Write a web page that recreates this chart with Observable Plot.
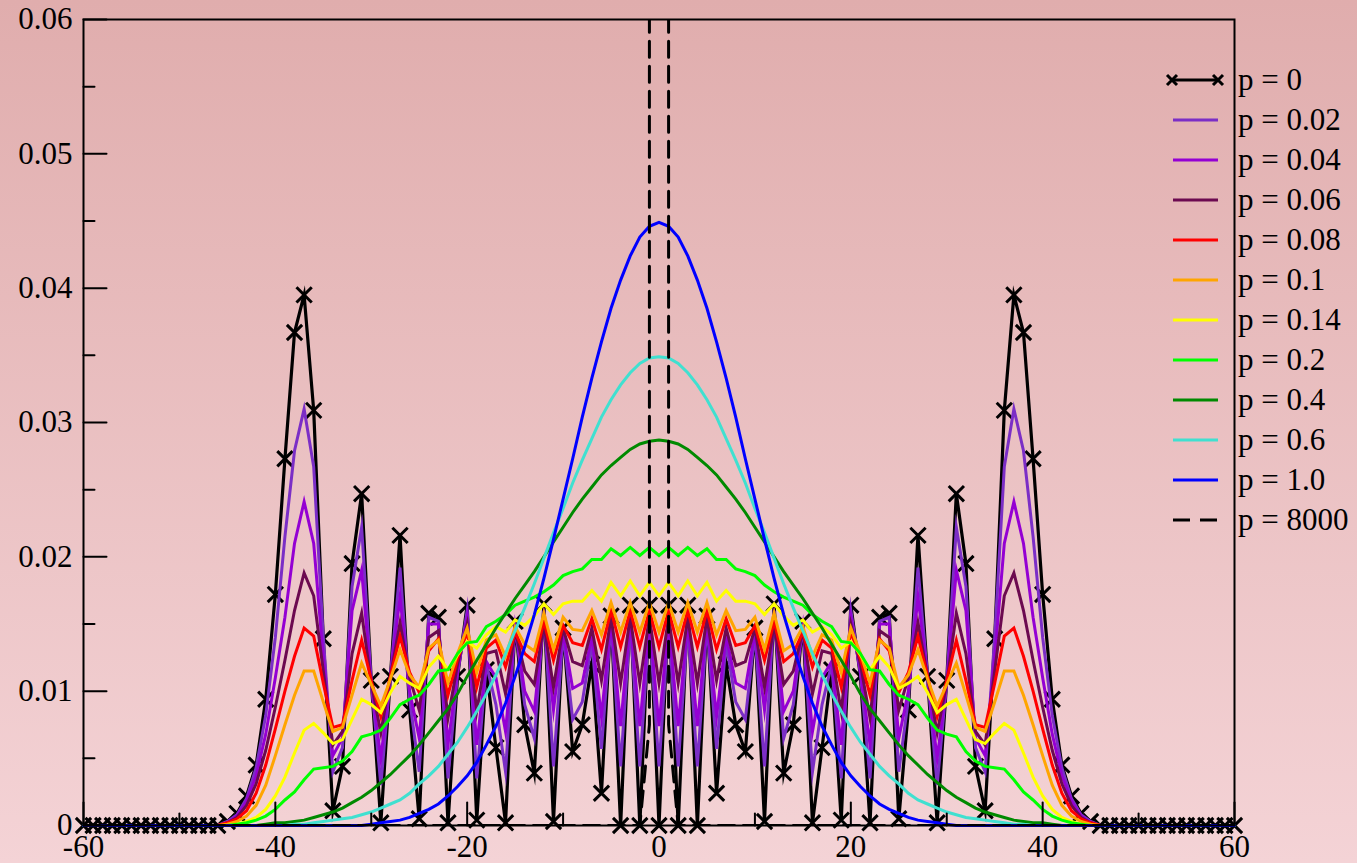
<!DOCTYPE html>
<html><head><meta charset="utf-8">
<script src="https://cdn.jsdelivr.net/npm/d3@7"></script>
<script src="https://cdn.jsdelivr.net/npm/@observablehq/plot@0.6"></script>
<style>
html,body{margin:0;padding:0;}
body{width:1357px;height:863px;background:linear-gradient(to bottom,#e0adad,#f4d3d6);overflow:hidden;position:relative;font-family:"Liberation Serif",serif;}
#chart{position:absolute;left:0;top:0;}
#legend{position:absolute;left:1160px;top:60px;}
.row{height:40px;display:flex;align-items:center;}
.row svg{width:66px;height:40px;display:block;}
.row span{font-size:31px;margin-left:12px;color:#000;line-height:40px;white-space:nowrap;}
</style></head><body>
<div id="chart"></div><div id="legend"></div>
<script>
// ---- data (values at |x| = 0..45; the distributions are symmetric about x = 0, zero beyond) ----
const p0Half = [0,0.0164,0,0.0164,0,0.0156,0.0024,0.0120,0.0075,0.0055,
  0.0147,0.0003,0.0165,0.0039,0.0075,0.0152,0.0002,0.0058,0.0116,0.0004,
  0.0164,0.0111,0.0002,0.0155,0.0158,0.0005,0.0086,0.0216,0.0111,0.0002,
  0.0108,0.0247,0.0195,0.0044,0.0011,0.0139,0.0309,0.0395,0.0367,0.0273,
  0.0172,0.0094,0.0045,0.0022,0.0009,0.0003];
const p002Half = [0.0044,0.0150,0.0044,0.0150,0.0044,0.0150,0.0057,0.0136,0.0092,0.0079,
  0.0143,0.0044,0.0160,0.0065,0.0090,0.0150,0.0040,0.0090,0.0120,0.0035,
  0.0160,0.0113,0.0035,0.0152,0.0155,0.0040,0.0094,0.0192,0.0111,0.0030,
  0.0107,0.0222,0.0178,0.0058,0.0040,0.0140,0.0267,0.0310,0.0279,0.0215,
  0.0140,0.0082,0.0043,0.0020,0.0008,0.0003];
const p004Half = [0.0074,0.0153,0.0074,0.0153,0.0074,0.0153,0.0081,0.0141,0.0106,0.0102,
  0.0144,0.0086,0.0155,0.0085,0.0100,0.0148,0.0070,0.0110,0.0122,0.0060,
  0.0155,0.0115,0.0060,0.0150,0.0150,0.0065,0.0100,0.0170,0.0111,0.0050,
  0.0106,0.0190,0.0160,0.0065,0.0052,0.0125,0.0210,0.0241,0.0210,0.0155,
  0.0110,0.0068,0.0037,0.0018,0.0007,0.0002];
const p006Half = [0.0106,0.0155,0.0106,0.0155,0.0106,0.0155,0.0108,0.0147,0.0119,0.0122,
  0.0147,0.0103,0.0150,0.0105,0.0115,0.0145,0.0098,0.0130,0.0128,0.0085,
  0.0150,0.0120,0.0080,0.0145,0.0140,0.0086,0.0110,0.0151,0.0111,0.0069,
  0.0106,0.0158,0.0128,0.0070,0.0060,0.0115,0.0171,0.0188,0.0160,0.0123,
  0.0088,0.0056,0.0031,0.0015,0.0006,0.0002];
const p008Half = [0.0133,0.0160,0.0133,0.0160,0.0133,0.0160,0.0131,0.0154,0.0134,0.0136,
  0.0149,0.0123,0.0152,0.0122,0.0128,0.0144,0.0118,0.0138,0.0132,0.0103,
  0.0144,0.0124,0.0097,0.0139,0.0130,0.0099,0.0114,0.0141,0.0111,0.0081,
  0.0108,0.0138,0.0108,0.0075,0.0073,0.0106,0.0141,0.0147,0.0126,0.0100,
  0.0072,0.0045,0.0024,0.0011,0.0005,0.0002];
const p01Half = [0.0144,0.0166,0.0144,0.0166,0.0144,0.0166,0.0142,0.0160,0.0145,0.0146,
  0.0155,0.0131,0.0158,0.0130,0.0135,0.0148,0.0126,0.0142,0.0138,0.0114,
  0.0147,0.0128,0.0106,0.0138,0.0132,0.0103,0.0112,0.0131,0.0109,0.0089,
  0.0105,0.0121,0.0097,0.0073,0.0070,0.0092,0.0115,0.0115,0.0097,0.0075,
  0.0052,0.0030,0.0015,0.0007,0.0003,0.0001];
const p014Half = [0.0171,0.0181,0.0171,0.0182,0.0171,0.0181,0.0167,0.0175,0.0167,0.0167,
  0.0165,0.0157,0.0165,0.0156,0.0149,0.0153,0.0144,0.0148,0.0142,0.0132,
  0.0137,0.0127,0.0116,0.0126,0.0118,0.0102,0.0106,0.0111,0.0099,0.0084,
  0.0090,0.0094,0.0079,0.0064,0.0061,0.0069,0.0076,0.0071,0.0054,0.0036,
  0.0022,0.0012,0.0006,0.0003,0.0001,0.0000];
const p02Half = [0.0201,0.0207,0.0201,0.0207,0.0201,0.0206,0.0198,0.0198,0.0191,0.0189,
  0.0186,0.0179,0.0174,0.0170,0.0167,0.0164,0.0157,0.0152,0.0148,0.0137,
  0.0136,0.0128,0.0116,0.0115,0.0105,0.0097,0.0094,0.0090,0.0080,0.0071,
  0.0068,0.0066,0.0055,0.0048,0.0044,0.0043,0.0042,0.0034,0.0025,0.0019,
  0.0012,0.0007,0.0004,0.0002,0.0001,0.0000];
const p04Half = [0.0287,0.0286,0.0284,0.0280,0.0274,0.0268,0.0261,0.0252,0.0243,0.0233,
  0.0222,0.0211,0.0200,0.0189,0.0179,0.0169,0.0158,0.0147,0.0135,0.0123,
  0.0111,0.0098,0.0087,0.0078,0.0069,0.0060,0.0052,0.0045,0.0038,0.0032,
  0.0026,0.0021,0.0017,0.0013,0.0010,0.0008,0.0006,0.0004,0.0003,0.0002,
  0.0002,0.0001,0,0,0,0];
const p06Half = [0.0349,0.0348,0.0344,0.0337,0.0328,0.0317,0.0304,0.0288,0.0272,0.0255,
  0.0236,0.0218,0.0199,0.0180,0.0162,0.0145,0.0128,0.0112,0.0098,0.0085,
  0.0073,0.0062,0.0053,0.0044,0.0037,0.0031,0.0024,0.0019,0.0016,0.0013,
  0.0010,0.0008,0.0006,0.0005,0.0004,0.0003,0.0002,0.0001,0.0001,0,
  0,0,0,0,0,0];
const p10Half = [0.0449,0.0446,0.0438,0.0424,0.0406,0.0385,0.0360,0.0333,0.0304,0.0273,
  0.0243,0.0213,0.0184,0.0157,0.0133,0.0111,0.0091,0.0074,0.0060,0.0047,
  0.0037,0.0029,0.0022,0.0016,0.0012,0.0009,0.0006,0.0004,0.0003,0.0002,
  0.0001,0,0,0,0,0,0,0,0,0,
  0,0,0,0,0,0];
// p = 8000: concentrated at x = ±1 (far above the plotted range)
const p8000X = [-60,-2,-1,-1,1,1,2,60];
const p8000Y = [0,0,0.0075,0.5,0.5,0.0075,0,0];

const seriesNames  = ["p = 0","p = 0.02","p = 0.04","p = 0.06","p = 0.08","p = 0.1","p = 0.14","p = 0.2","p = 0.4","p = 0.6","p = 1.0","p = 8000"];
const seriesColors = ["#000000","#7b2ec6","#9400d3","#6c0a50","#ff0000","#ffa500","#ffff00","#00ff00","#008a00","#40e0d0","#0000ff","#000000"];
const seriesHalves = [p0Half,p002Half,p004Half,p006Half,p008Half,p01Half,p014Half,p02Half,p04Half,p06Half,p10Half];

const xDomain = [-60, 60];
const yDomain = [0, 0.06];
const xTicks = [-60,-40,-20,0,20,40,60];
const xTickLabels = ["-60","-40","-20","0","20","40","60"];
const xMinor = [-50,-30,-10,10,30,50];
const yTicks = [0,0.01,0.02,0.03,0.04,0.05,0.06];
const yTickLabels = ["0","0.01","0.02","0.03","0.04","0.05","0.06"];
const yMinor = [0.005,0.015,0.025,0.035,0.045,0.055];

// ---- build tables ----
const positions = d3.range(xDomain[0], xDomain[1] + 1);
const tables = seriesHalves.map(half => positions.map(x => {
  const k = Math.abs(x);
  return {x, y: k < half.length ? half[k] : 0};
}));
const p8000 = p8000X.map((x, i) => ({x, y: p8000Y[i]}));

const inward = {draw(ctx, l) { ctx.moveTo(0, 0); ctx.lineTo(0, -l); }};
const lineOpts = {x: "x", y: "y", strokeWidth: 3, strokeLinejoin: "miter", strokeMiterlimit: 10};

const marks = [];
marks.push(Plot.line(tables[0], {...lineOpts, stroke: seriesColors[0], strokeWidth: 3.2}));
marks.push(Plot.dot(tables[0], {x: "x", y: "y", symbol: "times", r: 7, stroke: "black", strokeWidth: 3}));
for (let i = 1; i < tables.length; i++) {
  marks.push(Plot.line(tables[i], {...lineOpts, stroke: seriesColors[i]}));
}
marks.push(Plot.line(p8000, {...lineOpts, stroke: seriesColors[11], strokeDasharray: "16,9", clip: true}));
marks.push(Plot.frame({stroke: "black", strokeWidth: 2}));
marks.push(Plot.vector(yTicks, {x: xDomain[0], y: d => d, length: 23, rotate: 90, anchor: "start", shape: inward, stroke: "black", strokeWidth: 2}));
marks.push(Plot.vector(yMinor, {x: xDomain[0], y: d => d, length: 11, rotate: 90, anchor: "start", shape: inward, stroke: "black", strokeWidth: 2}));
marks.push(Plot.vector(xTicks, {x: d => d, y: yDomain[0], length: 23, rotate: 0, anchor: "start", shape: inward, stroke: "black", strokeWidth: 2}));
marks.push(Plot.vector(xMinor, {x: d => d, y: yDomain[0], length: 12, rotate: 0, anchor: "start", shape: inward, stroke: "black", strokeWidth: 2}));
marks.push(Plot.axisY(yTicks, {anchor: "left", tickSize: 0, tickPadding: 11, fontSize: 31, tickFormat: d => yTickLabels[yTicks.indexOf(d)], label: null}));
marks.push(Plot.axisX(xTicks, {anchor: "bottom", tickSize: 0, tickPadding: 9, fontSize: 31, tickFormat: d => xTickLabels[xTicks.indexOf(d)], label: null}));

const chart = Plot.plot({
  width: 1357, height: 863,
  marginLeft: 83, marginRight: 123, marginTop: 19, marginBottom: 38,
  x: {domain: xDomain}, y: {domain: yDomain},
  style: {background: "transparent", fontFamily: "Liberation Serif", fontSize: "31px", color: "black", overflow: "visible"},
  marks
});
document.getElementById("chart").appendChild(chart);

// ---- legend ----
const legend = d3.select("#legend");
seriesNames.forEach((name, i) => {
  const row = legend.append("div").attr("class", "row");
  const svg = row.append("svg");
  const ln = svg.append("line").attr("x1", 13).attr("x2", 58).attr("y1", 20).attr("y2", 20)
    .attr("stroke", seriesColors[i]).attr("stroke-width", 3);
  if (i === 11) ln.attr("stroke-dasharray", "17,10");
  if (i === 0) {
    ln.attr("x1", 12);
    [12, 58].forEach(cx => {
      svg.append("path").attr("d", `M${cx-5},15L${cx+5},25M${cx-5},25L${cx+5},15`)
        .attr("stroke", "black").attr("stroke-width", 3).attr("fill", "none");
    });
  }
  row.append("span").text(name);
});
</script></body></html>
